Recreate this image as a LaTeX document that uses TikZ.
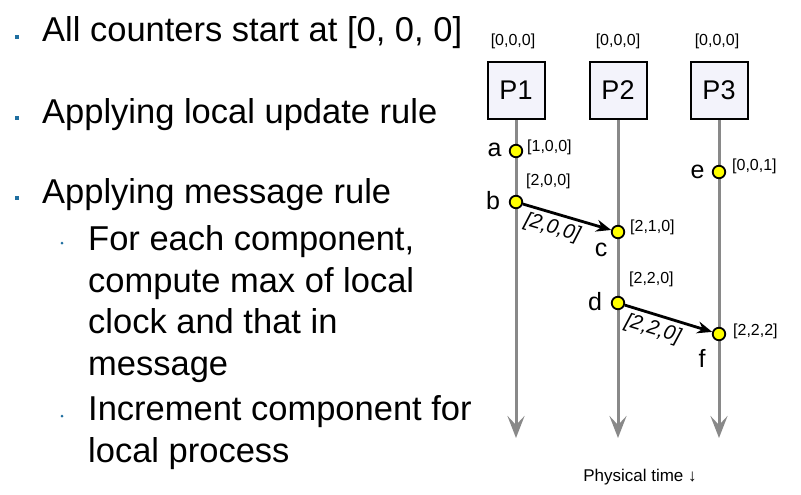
\documentclass[tikz,border=0pt]{standalone}
\usepackage{fontspec}
\setmainfont{Liberation Sans}
\usetikzlibrary{arrows.meta}
\definecolor{bulletblue}{HTML}{1F6FA0}
\definecolor{linegray}{HTML}{898989}
\definecolor{boxfill}{HTML}{F3F3FB}
\definecolor{evyellow}{HTML}{FFFF00}
\begin{document}
\begin{tikzpicture}[x=1pt,y=-1pt,
  bigtext/.style={anchor=base west,inner sep=0pt,font=\fontsize{34.5}{41.5}\selectfont},
  bul/.style={fill=bulletblue,minimum size=3.5pt,inner sep=0pt},
  subbul/.style={fill=bulletblue,circle,minimum size=3pt,inner sep=0pt},
  procbox/.style={draw=black,line width=2pt,fill=boxfill,minimum width=57pt,minimum height=57pt,inner sep=0pt,font=\fontsize{27}{30}\selectfont},
  timeline/.style={draw=linegray,line width=3pt,-{Stealth[length=22pt,width=17pt,inset=9pt]}},
  event/.style={circle,draw=black,line width=1.8pt,fill=evyellow,minimum size=12.5pt,inner sep=0pt},
  evlbl/.style={inner sep=0pt,font=\fontsize{25}{27}\selectfont},
  stamp/.style={anchor=west,inner sep=0pt,font=\fontsize{16}{18}\selectfont},
  topstamp/.style={inner sep=0pt,font=\fontsize{16}{18}\selectfont},
  msg/.style={draw=black,line width=2.8pt,-{Stealth[length=15pt,width=12pt,inset=5pt]}},
  msglbl/.style={inner sep=1pt,font=\fontsize{20.5}{22}\selectfont\itshape,sloped}
]
\useasboundingbox[fill=white] (0,0) rectangle (801,495);

% left text
\node[bul] (b1) at (17,37) {};
\node[bigtext] (t1) at (42,42) {All counters start at [0, 0, 0]};
\node[bul] (b2) at (17,118) {};
\node[bigtext] (t2) at (42,123) {Applying local update rule};
\node[bul] (b3) at (17,198) {};
\node[bigtext] (t3) at (42,203) {Applying message rule};
\node[subbul] (s1) at (62,243) {};
\node[bigtext] (u1) at (88,250) {For each component,};
\node[bigtext] (u2) at (88,292) {compute max of local};
\node[bigtext] (u3) at (88,333) {clock and that in};
\node[bigtext] (u4) at (88,375) {message};
\node[subbul] (s2) at (62,416) {};
\node[bigtext] (u5) at (88,420) {Increment component for};
\node[bigtext] (u6) at (88,462) {local process};

% process boxes
\node[procbox] (P1) at (516,90.5) {P1};
\node[procbox] (P2) at (618,90.5) {P2};
\node[procbox] (P3) at (719,90.5) {P3};
\node[topstamp] (z1) at (513,41) {[0,0,0]};
\node[topstamp] (z2) at (618,41) {[0,0,0]};
\node[topstamp] (z3) at (717,41) {[0,0,0]};

% time lines
\coordinate (e1) at (516,438);
\coordinate (e2) at (618,438);
\coordinate (e3) at (719,438);
\draw[timeline] (P1.south) -- (e1);
\draw[timeline] (P2.south) -- (e2);
\draw[timeline] (P3.south) -- (e3);

% events
\node[event] (a) at (516,151) {};
\node[event] (b) at (516,202) {};
\node[event] (c) at (618,232) {};
\node[event] (d) at (618,303) {};
\node[event] (e) at (719,172) {};
\node[event] (f) at (719,334) {};

\node[evlbl] (la) at (494.5,150) {a};
\node[evlbl] (lb) at (493,201) {b};
\node[evlbl] (lc) at (601,250) {c};
\node[evlbl] (ld) at (595,302) {d};
\node[evlbl] (le) at (697.5,172) {e};
\node[evlbl] (lf) at (702,358) {f};

\node[stamp] (sa) at (527,147) {[1,0,0]};
\node[stamp] (sb) at (526,181) {[2,0,0]};
\node[stamp] (se) at (732,166) {[0,0,1]};
\node[stamp] (sc) at (630,227) {[2,1,0]};
\node[stamp] (sd) at (629,279) {[2,2,0]};
\node[stamp] (sf) at (733,331) {[2,2,2]};

% messages
\draw[msg] (b) -- node[msglbl,below=3pt,pos=0.38] {[2,0,0]} (c);
\draw[msg] (d) -- node[msglbl,below=3pt,pos=0.37] {[2,2,0]} (f);

\node[inner sep=0pt,anchor=base,font=\fontsize{17}{20}\selectfont] (pt) at (640,481) {Physical time ↓};
\end{tikzpicture}
\end{document}
